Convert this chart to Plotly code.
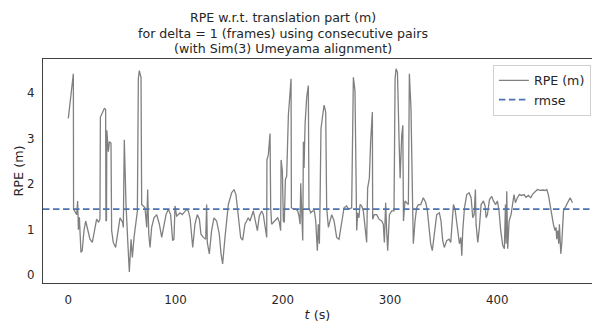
import plotly.graph_objects as go

t_s = [0, 4.7, 4.9, 7.8, 8.7, 9.4, 10.3, 11.8, 13, 14.6, 16.2, 17.7, 20.2, 22.4, 24.3, 26.4, 28.3, 29.5, 29.9, 31.7,
       33.6, 34.8, 35.1, 35.6, 35.9, 37.3, 38.3, 39.8, 40.4, 41.9, 44.1, 46.6, 48.2, 50.7, 51.3, 52.2, 53.8, 55.4,
       56.9, 58.5, 59.7, 61.3, 63.1, 64.4, 65.3, 66.2, 67.8, 68.4, 70, 71.5, 73.1, 74, 75, 76.2, 77.7, 79.9, 82.4,
       84.9, 87.1, 89.2, 91.1, 93.3, 95.4, 97.3, 98.5, 99.5, 101, 102.6, 104.1, 106.3, 108.8, 110.4, 111.9, 113.5,
       116, 118.1, 120.3, 122.2, 123.7, 125.9, 128.1, 129, 129.6, 131.5, 133.6, 135.8, 138.3, 140.8, 142.4, 143.9,
       146.1, 149.2, 152.3, 154.5,
       156.3, 158.5, 160.7, 162.6, 164.7, 166.3, 167.8, 169.4, 170.9, 172.5, 174.4, 176.3, 178.1, 180.3, 181.8,
       183.4, 185, 185.2, 186.5, 188.1, 188.7, 189.6, 191.2, 193.4, 195.2, 196.8, 198, 198.4, 199.6, 200.5, 201.4,
       202.4, 203.6, 205.2, 206.7, 207.7, 208, 209.8, 212, 213.9, 215.1, 216.1, 216.7, 217.6, 218.6, 219.2, 219.8,
       220.8, 222.3, 223.8, 224.4, 226, 227.9, 229.4, 230.7, 231.6, 232.2, 233.1, 234.1, 234.7, 235.6, 237.2, 238.5,
       240, 240.9, 242.5, 244, 245.6, 247.8, 250.2, 252.4, 254.9, 257.1, 259.5, 261.1, 264.2, 265.1, 265.8, 267.3,
       268.9, 269.8, 271, 272, 273.5, 275.1, 276.6, 278.2, 279.1, 280.7, 281.9, 283.5, 283.8, 285.3, 287.5, 289.7,
       292.2, 293.7, 294.7, 295.9, 296.9, 297.8, 299.4, 301.6, 303.7, 304.7, 305.6, 306.9, 308.4, 309.4, 310.9,
       311.9, 312.5,
       313.9, 315.5, 317.1, 318, 319.5, 321.1, 321.7, 323.3, 324.8, 326.4, 328.6, 331, 333.3, 334.8, 336.7, 337.9,
       339.4, 341.3, 343.5, 346, 347.5, 349.1, 350.6, 352.8, 355, 356.6, 359.1, 360.6, 362.2, 363.8, 364.7, 366,
       366.9, 367.8, 369.4, 371.5, 373.7, 375.6, 377.1, 378.4, 379.6, 380.2, 381.8, 383.3, 384.9, 387.1, 388.6,
       389.6, 390.8, 392.7, 394.8, 396.4, 398.5, 400.1, 401.6, 403.2, 405.1, 406.6, 407.6, 408.2, 408.8, 409.7,
       411, 412.8, 414.4, 415.6, 416.9, 418.7, 420.6, 422.8, 425, 426.8, 429, 431.2, 433, 435.2, 437.4, 439.9,
       442.4, 444.6, 446.1, 447.6, 449.2, 450.7, 452.3, 453.8, 454.8, 455.4, 456.4, 457.3, 457.9, 459.2, 460.1,
       461.7, 463.9, 465.7, 467.9, 470.1]

rpe_m = [3.44, 4.42, 1.45, 1.33, 1.63, 1.0, 1.27, 0.5, 0.54, 0.98, 1.19, 1.05, 0.79, 0.72, 0.98, 1.23, 1.16, 1.23, 3.47, 3.55,
         3.66, 3.64, 1.19, 1.2, 3.18, 2.71, 2.93, 2.9, 0.98, 0.72, 0.61, 1.05, 1.26, 1.16, 1.05, 2.97, 1.55, 0.76,
         0.07, 0.79, 0.39, 0.83, 1.12, 1.41, 4.31, 4.49, 4.34, 1.55, 1.52, 1.48, 1.05, 1.88, 0.90, 0.61, 1.05, 1.26, 1.33,
         1.12, 0.83, 1.12, 1.33, 1.45, 1.33, 0.76, 0.79, 1.52, 1.30, 1.33, 1.37, 1.33, 1.41, 1.45, 1.41, 1.26,
         0.61, 1.12, 1.33, 1.23, 0.90, 0.83, 0.79, 1.55, 0.72, 0.47, 0.98, 1.26, 1.19, 0.90, 0.47, 0.25,
         0.83, 1.55, 1.81, 1.88,
         1.77, 1.33, 0.83, 0.77, 1.12, 1.19, 1.26, 1.19, 1.30, 1.41, 1.19, 0.98, 1.30, 1.41, 1.33,
         1.08, 0.83, 2.53, 2.64, 3.11, 1.48, 1.12, 1.16, 1.23, 1.26, 1.16, 0.98, 2.53, 2.28, 1.19, 1.16,
         2.10, 2.17, 3.51, 4.16, 4.31, 1.48, 1.45, 1.45, 1.41, 1.30, 1.12, 2.02, 1.55, 0.76, 2.93, 2.35,
         3.33, 3.91, 4.16, 1.48, 1.37, 1.41, 1.41, 1.19, 0.79, 0.54, 1.12, 0.69, 1.55, 3.22, 3.51, 3.73,
         3.58, 1.48, 1.05, 1.19, 1.33, 1.19, 0.83, 0.79, 1.19, 1.48, 1.52, 1.45, 1.48, 3.94, 4.34, 4.05,
         0.98, 1.37, 1.26, 1.55, 1.52, 1.41, 1.12, 0.72, 1.91, 2.13, 2.93, 3.58, 1.23, 1.33, 1.33, 1.23,
         1.19, 1.12, 0.72, 1.59, 0.94, 0.54, 1.33, 1.41, 1.41, 4.31, 4.53, 4.45, 2.97, 2.13, 3.07,
         3.29, 1.19,
         1.63, 1.59, 1.55, 4.42, 3.66, 1.48, 0.69, 1.19, 1.48, 1.55, 1.55, 1.70, 1.59, 1.41, 0.90, 0.69,
         0.54, 0.98, 1.33, 1.37, 1.19, 0.76, 0.61, 0.76, 0.79, 0.72, 1.55, 1.45, 1.19, 0.90, 0.69, 0.83,
         0.43, 0.98, 1.48, 1.77, 1.81, 1.70, 1.26, 1.33, 1.88, 1.12, 0.72, 1.05, 1.55, 1.63, 1.52,
         1.26, 1.33, 1.66, 1.73, 1.63, 1.55, 1.63, 1.41, 0.98, 0.65, 0.58, 1.55, 0.69, 1.84, 0.58,
         1.19, 1.33, 1.63, 1.77, 1.59, 1.70, 1.77, 1.75, 1.77, 1.71, 1.75, 1.70, 1.78, 1.84, 1.88, 1.86,
         1.87, 1.86, 1.88, 1.77, 1.55, 1.26, 1.12, 0.98, 1.05, 0.79, 0.98, 0.69, 1.12, 0.47, 0.69,
         1.41, 1.52, 1.59, 1.70, 1.59]

rmse = 1.45

title_lines = ["RPE w.r.t. translation part (m)",
               "for delta = 1 (frames) using consecutive pairs",
               "(with Sim(3) Umeyama alignment)"]

FONT = "DejaVu Sans"
TXT = "#262626"

fig = go.Figure()
fig.add_trace(go.Scatter(x=t_s, y=rpe_m, mode="lines", name="RPE (m)",
                         line=dict(color="#808080", width=1.3)))
fig.add_trace(go.Scatter(x=[None], y=[None], mode="lines", name="rmse",
                         line=dict(color="#4c72b0", width=1.6, dash="6.5px,3.5px")))
fig.add_hline(y=rmse, line=dict(color="#4c72b0", width=1.6, dash="6.5px,3.5px"), layer="above")

W, H = 592, 322
ml, mr, mt, mb = 43, 0, 59, 37

annotations = []
for i, line in enumerate(title_lines):
    annotations.append(dict(text=line, xref="paper", yref="paper",
                            x=(283 - ml) / (W - ml - mr), y=1 + (mt - (17.5 + 15.7 * i)) / (H - mt - mb),
                            xanchor="center", yanchor="middle", showarrow=False,
                            font=dict(family=FONT, size=12.6, color=TXT)))

fig.update_layout(
    width=W, height=H,
    margin=dict(l=ml, r=mr, t=mt, b=mb, pad=0),
    paper_bgcolor="white", plot_bgcolor="white",
    font=dict(family=FONT, size=11.8, color=TXT),
    annotations=annotations,
    showlegend=True,
    legend=dict(x=0.998, y=0.975, xanchor="right", yanchor="top",
                bgcolor="rgba(255,255,255,0.85)", bordercolor="#d0d0d0", borderwidth=1,
                font=dict(family=FONT, size=12.6, color=TXT), itemwidth=30,
                tracegroupgap=0),
    xaxis=dict(range=[-23.6, 488.3], dtick=100, tick0=0, showgrid=False, zeroline=False,
               showline=True, linecolor="#404040", linewidth=1.2, mirror=True, ticks="",
               ticklabelstandoff=6,
               title=dict(text="<i>t</i> (s)", font=dict(family=FONT, size=12.8, color=TXT), standoff=6)),
    yaxis=dict(range=[-0.17, 4.743], dtick=1, tick0=0, showgrid=False, zeroline=False,
               showline=True, linecolor="#404040", linewidth=1.2, mirror=False, ticks="",
               ticklabelstandoff=5,
               title=dict(text="RPE (m)", font=dict(family=FONT, size=12.8, color=TXT), standoff=0)),
)

fig.write_html("out.html")
